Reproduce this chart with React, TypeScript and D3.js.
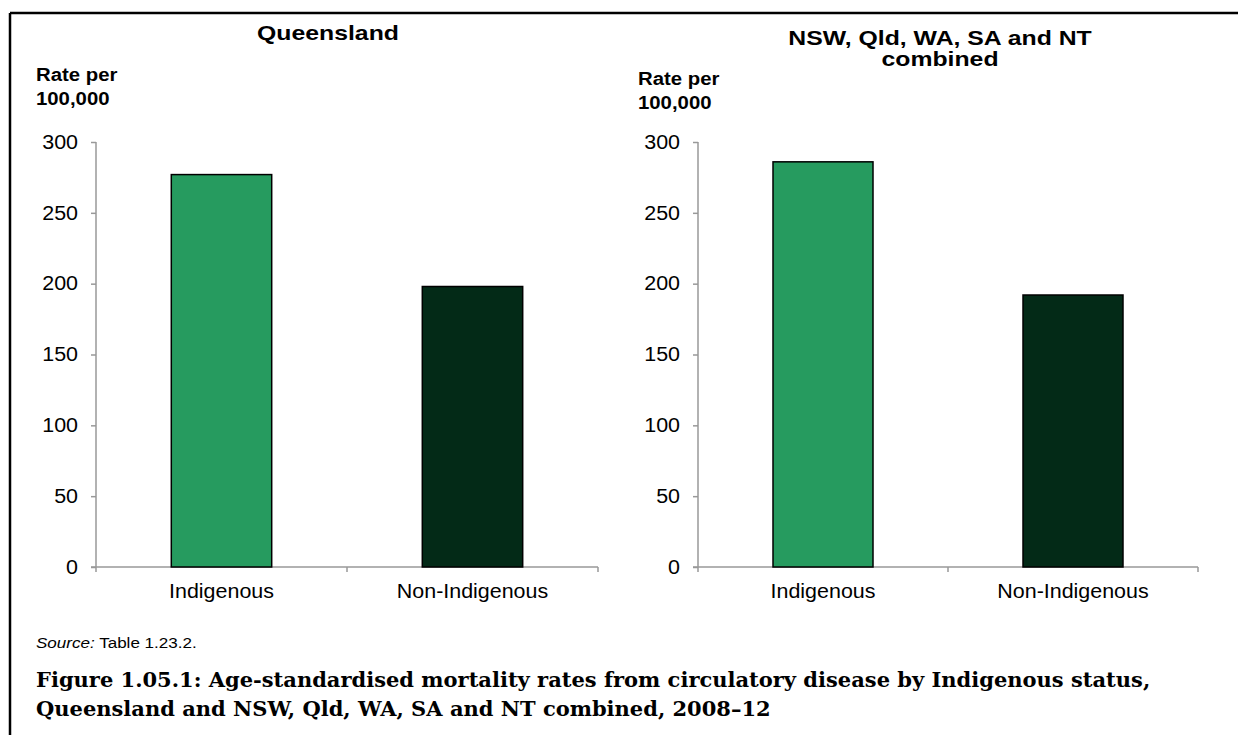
import { useEffect, useRef } from "react";
import * as d3 from "d3";

const categories = ["Indigenous", "Non-Indigenous"];
const qldRates = [277, 198];
const combinedRates = [286, 192];
const yTicks = [0, 50, 100, 150, 200, 250, 300];
const barColors = ["#269b5f", "#032a17"];

const panelTitles = [["Queensland"], ["NSW, Qld, WA, SA and NT", "combined"]];
const axisCaption = ["Rate per", "100,000"];
const captionLines = [
  "Figure 1.05.1: Age-standardised mortality rates from circulatory disease by Indigenous status,",
  "Queensland and NSW, Qld, WA, SA and NT combined, 2008–12",
];

// the source picture is a little wider than tall, so text is stretched slightly
const SX = 1.1;

export default function App() {
  const ref = useRef<SVGSVGElement>(null);

  useEffect(() => {
    if (!ref.current) return;
    const svg = d3.select(ref.current);
    svg.selectAll("*").remove();

    const font = "'Liberation Sans', Arial, sans-serif";

    const label = (
      g: d3.Selection<any, unknown, null, undefined>,
      x: number,
      y: number,
      t: string,
      size: number,
      anchor = "start",
      weight = "normal",
      sx = SX
    ) =>
      g.append("text")
        .attr("transform", `translate(${x},${y}) scale(${sx},1)`)
        .attr("text-anchor", anchor)
        .attr("font-family", font)
        .attr("font-weight", weight)
        .attr("font-size", size)
        .text(t);

    // frame (top + left only)
    svg.append("path")
      .attr("d", "M10,13 H1238 M10,13 V735")
      .attr("fill", "none")
      .attr("stroke", "#000")
      .attr("stroke-width", 2.5);

    const panels = [
      { x0: 96, x1: 598, values: qldRates, title: panelTitles[0], titleX: 328, titleY: 40, rateX: 36, rateY: 81 },
      { x0: 698, x1: 1198, values: combinedRates, title: panelTitles[1], titleX: 940, titleY: 45, rateX: 638, rateY: 85 },
    ];

    const y = d3.scaleLinear().domain([0, 300]).range([567, 142]);

    panels.forEach((p) => {
      const g = svg.append("g");
      const x = d3.scaleBand<string>().domain(categories).range([p.x0, p.x1]).paddingInner(0.6).paddingOuter(0.3);
      const band = d3.scaleBand<string>().domain(categories).range([p.x0, p.x1]);

      p.title.forEach((t, i) => label(g, p.titleX, p.titleY + i * 21, t, 20, "middle", "bold", 1.24));
      axisCaption.forEach((t, i) => label(g, p.rateX, p.rateY + i * 23.5, t, 18.5, "start", "bold"));

      // y axis
      const yAxis = g.append("g").attr("transform", `translate(${p.x0},0)`)
        .call(d3.axisLeft(y).tickValues(yTicks).tickSize(5).tickSizeOuter(5));
      yAxis.select(".domain").remove();
      yAxis.append("line")
        .attr("x1", 0).attr("x2", 0).attr("y1", y(300)).attr("y2", y(0))
        .attr("stroke", "#999").attr("stroke-width", 1.5);
      yAxis.selectAll("line").attr("stroke", "#999").attr("stroke-width", 1.5);
      yAxis.selectAll(".tick text")
        .attr("x", 0)
        .attr("transform", `translate(-18,0) scale(${SX},1)`)
        .attr("font-family", font)
        .attr("font-size", 19.5)
        .attr("fill", "#000");

      // x axis
      const xg = g.append("g");
      xg.append("line")
        .attr("x1", p.x0 - 5).attr("x2", p.x1)
        .attr("y1", y(0)).attr("y2", y(0))
        .attr("stroke", "#999").attr("stroke-width", 1.5);
      const edges = [p.x0, ...categories.map((c) => (band(c) ?? 0) + band.bandwidth())];
      edges.forEach((ex) => {
        xg.append("line")
          .attr("x1", ex).attr("x2", ex)
          .attr("y1", y(0)).attr("y2", y(0) + 5)
          .attr("stroke", "#999").attr("stroke-width", 1.5);
      });
      categories.forEach((c) => label(xg, (band(c) ?? 0) + band.bandwidth() / 2, 598, c, 19.5, "middle"));

      // bars
      g.selectAll("rect.bar")
        .data(p.values)
        .join("rect")
        .attr("class", "bar")
        .attr("x", (_, i) => x(categories[i]) ?? 0)
        .attr("width", x.bandwidth())
        .attr("y", (d) => y(d))
        .attr("height", (d) => y(0) - y(d))
        .attr("fill", (_, i) => barColors[i])
        .attr("stroke", "#000")
        .attr("stroke-width", 1.5);
    });

    // source
    const src = svg.append("text")
      .attr("transform", `translate(36,648) scale(${SX},1)`)
      .attr("font-family", font)
      .attr("font-size", 15.5);
    src.append("tspan").attr("font-style", "italic").text("Source:");
    src.append("tspan").text(" Table 1.23.2.");

    // caption
    captionLines.forEach((t, i) => {
      svg.append("text")
        .attr("x", 36)
        .attr("y", 687 + i * 29)
        .attr("font-family", "'DejaVu Serif', serif")
        .attr("font-weight", "bold")
        .attr("font-size", 21)
        .text(t);
    });
  }, []);

  return (
    <svg
      ref={ref}
      width={1238}
      height={735}
      style={{ position: "absolute", left: 0, top: 0, background: "#fff" }}
    />
  );
}
